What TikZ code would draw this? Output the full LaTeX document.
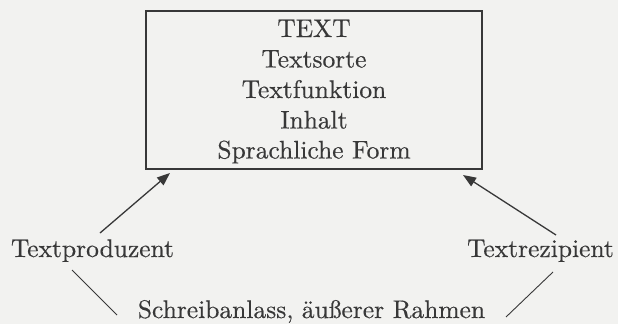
\documentclass[tikz,border=0pt]{standalone}
\usepackage{fontspec}
\newfontfamily\lmten{lmroman10-regular.otf}[FakeBold=0.4]
\usetikzlibrary{arrows.meta}
\definecolor{paper}{HTML}{F2F2F0}
\definecolor{ink}{HTML}{383838}
\tikzset{
  lbl/.style={font=\lmten\fontsize{25.5}{30.25}\selectfont, text=ink, inner sep=0pt, anchor=base},
  boxstyle/.style={draw=ink, line width=1.4pt, inner sep=0pt,
    minimum width=336pt, minimum height=158pt},
  arr/.style={draw=ink, line width=1.3pt, -{Triangle[length=13pt,width=10pt]}},
  thin/.style={draw=ink, line width=0.9pt}
}
\begin{document}
\begin{tikzpicture}[x=1pt,y=-1pt]
  \fill[paper] (0,0) rectangle (618,324);
  \useasboundingbox (0,0) rectangle (618,324);
  \node[boxstyle] (box) at (314,90) {};
  \node[lbl] (l1t) at (314,37) {TEXT};
  \node[lbl] (l2t) at (314,67.5) {Textsorte};
  \node[lbl] (l3t) at (314,98) {Textfunktion};
  \node[lbl] (l4t) at (314,128.5) {Inhalt};
  \node[lbl] (l5t) at (314,158.5) {Sprachliche Form};
  \node[lbl] (prod) at (92.5,257) {Textproduzent};
  \node[lbl] (rez) at (540.5,257) {Textrezipient};
  \node[lbl] (anl) at (311.5,318) {Schreibanlass, äußerer Rahmen};
  \coordinate (p1) at (100,233);
  \coordinate (t1) at (170,173);
  \coordinate (p2) at (556,235);
  \coordinate (t2) at (463,175);
  \coordinate (l1) at (72,270);
  \coordinate (l2) at (117,315);
  \coordinate (r1) at (553,272);
  \coordinate (r2) at (506,317);
  \draw[arr] (p1) -- (t1);
  \draw[arr] (p2) -- (t2);
  \draw[thin] (l1) -- (l2);
  \draw[thin] (r1) -- (r2);
\end{tikzpicture}
\end{document}
